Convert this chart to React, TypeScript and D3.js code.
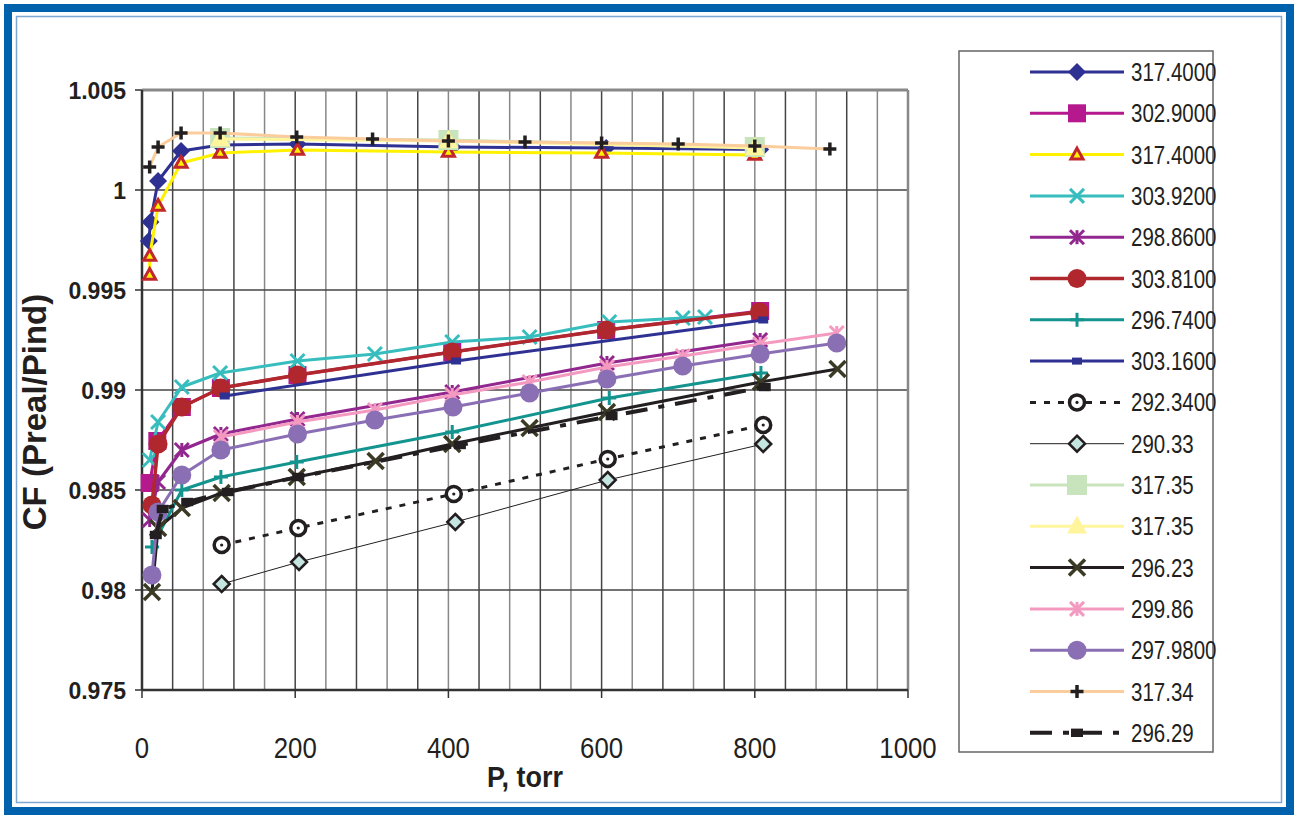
import React, { useRef, useEffect } from 'react';
import * as d3 from 'd3';

// series values: [P (torr), CF]
const s317_40a = [[9, 0.99745], [11, 0.9984], [21, 1.00045], [51, 1.00195], [102, 1.00225], [203, 1.0023], [405, 1.00215], [606, 1.0021], [807, 1.00203]];
const s302_90 = [[10, 0.98535], [20, 0.98745], [52, 0.98915], [103, 0.9901], [203, 0.99075], [405, 0.9919], [606, 0.993], [807, 0.99395]];
const s317_40b = [[10, 0.99575], [10, 0.9967], [21, 0.9992], [51, 1.00135], [102, 1.00185], [203, 1.002], [400, 1.0019], [600, 1.00185], [800, 1.00175]];
const s303_92 = [[10, 0.9865], [21, 0.9884], [52, 0.99015], [102, 0.99085], [203, 0.99145], [304, 0.9918], [405, 0.9924], [506, 0.99265], [610, 0.9934], [706, 0.9936], [735, 0.99365]];
const s298_86 = [[10, 0.9835], [21, 0.9854], [52, 0.987], [103, 0.9878], [203, 0.98855], [405, 0.9899], [607, 0.99135], [807, 0.9925]];
const s303_81 = [[13, 0.98425], [21, 0.9873], [52, 0.98915], [103, 0.9901], [203, 0.99075], [405, 0.9919], [606, 0.993], [806, 0.9939]];
const s296_74 = [[13, 0.98215], [52, 0.985], [103, 0.98565], [202, 0.9864], [405, 0.9879], [610, 0.9896], [808, 0.99085]];
const s303_16 = [[108, 0.9897], [410, 0.99145], [811, 0.9935]];
const s292_34 = [[104, 0.98225], [204, 0.9831], [407, 0.9848], [608, 0.98655], [811, 0.98825]];
const s290_33 = [[104, 0.9803], [205, 0.9814], [409, 0.9834], [608, 0.9855], [811, 0.9873]];
const s317_35a = [[102, 1.0026], [400, 1.0025], [800, 1.00215]];
const s317_35b = [[102, 1.00255], [400, 1.00245], [800, 1.0021]];
const s296_23 = [[13, 0.9799], [21, 0.9831], [52, 0.9841], [104, 0.98485], [202, 0.98565], [305, 0.98645], [405, 0.9873], [506, 0.9881], [607, 0.9889], [808, 0.9904], [908, 0.99105]];
const s299_86 = [[103, 0.98765], [203, 0.9884], [304, 0.989], [405, 0.98975], [506, 0.9904], [607, 0.99115], [706, 0.9917], [807, 0.9923], [907, 0.99285]];
const s297_98 = [[13, 0.98075], [21, 0.9839], [52, 0.98575], [103, 0.987], [203, 0.9878], [304, 0.9885], [406, 0.98915], [506, 0.98985], [607, 0.99055], [706, 0.9912], [807, 0.9918], [907, 0.99235]];
const s317_34 = [[10, 1.00115], [21, 1.00215], [51, 1.00285], [102, 1.00285], [202, 1.00265], [301, 1.00255], [400, 1.00245], [500, 1.0024], [600, 1.00235], [700, 1.0023], [800, 1.0022], [898, 1.00205]];
const s296_29 = [[18, 0.98275], [27, 0.98405], [59, 0.9844], [112, 0.9849], [204, 0.98565], [415, 0.98725], [613, 0.9887], [813, 0.99015]];

const legendLabels = ['317.4000', '302.9000', '317.4000', '303.9200', '298.8600', '303.8100', '296.7400', '303.1600', '292.3400', '290.33', '317.35', '317.35', '296.23', '299.86', '297.9800', '317.34', '296.29'];
const seriesData = [s317_40a, s302_90, s317_40b, s303_92, s298_86, s303_81, s296_74, s303_16, s292_34, s290_33, s317_35a, s317_35b, s296_23, s299_86, s297_98, s317_34, s296_29];

const xTicks = [0, 200, 400, 600, 800, 1000];
const yTicks = [0.975, 0.98, 0.985, 0.99, 0.995, 1, 1.005];
const yTickLabels = ['0.975', '0.98', '0.985', '0.99', '0.995', '1', '1.005'];

// line + marker styles, same order as the series
const styles = [
  { line: '#2e3192', w: 3, m: 'diamond', size: 9, fill: '#2e3192' },
  { line: '#b5198d', w: 3, m: 'square', size: 9, fill: '#b5198d' },
  { line: '#fff200', w: 3, m: 'triangle', size: 6, fill: '#fff200', stroke: '#c1272d', sw: 3 },
  { line: '#37bdbd', w: 3, m: 'x', size: 7, stroke: '#37bdbd', sw: 3 },
  { line: '#92278f', w: 3, m: 'asterisk', size: 7, stroke: '#92278f', sw: 3 },
  { line: '#b0272d', w: 3.5, m: 'circle', size: 9.5, fill: '#b0272d' },
  { line: '#13948f', w: 3, m: 'plus', size: 7, stroke: '#13948f', sw: 3 },
  { line: '#2e3192', w: 3, m: 'dash', size: 5, fill: '#2e3192' },
  { line: '#231f20', w: 3, dash: '6,8', m: 'circle', size: 7.5, fill: '#fff', stroke: '#231f20', sw: 3.5, dot: true },
  { line: '#231f20', w: 1, m: 'diamond', size: 8, fill: '#c5e5e1', stroke: '#231f20', sw: 2.5 },
  { line: '#c8e4bc', w: 3, m: 'square', size: 10, fill: '#c8e4bc' },
  { line: '#fff59d', w: 3, m: 'bigtriangle', size: 10, fill: '#fff59d' },
  { line: '#231f20', w: 3, m: 'x', size: 8, stroke: '#3b3a24', sw: 3.5 },
  { line: '#f49ac1', w: 3, m: 'asterisk', size: 7, stroke: '#f49ac1', sw: 3 },
  { line: '#8b6fb5', w: 3, m: 'circle', size: 9.5, fill: '#8b6fb5' },
  { line: '#fbcd9c', w: 3, m: 'plus', size: 6.5, stroke: '#231f20', sw: 3.5 },
  { line: '#231f20', w: 4, dash: '22,11,6,11', m: 'dash', size: 6, fill: '#231f20' },
];

const W = 1298;
const H = 819;
const FONT = "'Liberation Sans', Arial, Helvetica, sans-serif";

const drawMarker = (g, st, x, y) => {
  const s = st.size;
  const mg = g.append('g').attr('transform', `translate(${x},${y})`);
  if (st.m === 'diamond') {
    mg.append('path').attr('d', `M0,${-s}L${s},0L0,${s}L${-s},0Z`)
      .attr('fill', st.fill).attr('stroke', st.stroke || 'none').attr('stroke-width', st.sw || 0);
  } else if (st.m === 'square') {
    mg.append('rect').attr('x', -s).attr('y', -s).attr('width', 2 * s).attr('height', 2 * s).attr('fill', st.fill);
  } else if (st.m === 'dash') {
    mg.append('rect').attr('x', -s).attr('y', -s * 0.7).attr('width', 2 * s).attr('height', 1.4 * s).attr('fill', st.fill);
  } else if (st.m === 'triangle' || st.m === 'bigtriangle') {
    const h = s * 1.8;
    mg.append('path').attr('d', `M0,${-h * 0.6}L${s},${h * 0.4}L${-s},${h * 0.4}Z`)
      .attr('fill', st.fill).attr('stroke', st.stroke || 'none').attr('stroke-width', st.sw || 0)
      .attr('stroke-linejoin', 'miter');
  } else if (st.m === 'circle') {
    mg.append('circle').attr('r', s).attr('fill', st.fill)
      .attr('stroke', st.stroke || 'none').attr('stroke-width', st.sw || 0);
    if (st.dot) mg.append('circle').attr('r', 1.6).attr('fill', st.stroke);
  } else {
    const lines = [];
    if (st.m === 'x' || st.m === 'asterisk') {
      lines.push([-s, -s, s, s], [-s, s, s, -s]);
    }
    if (st.m === 'asterisk' || st.m === 'plus') lines.push([0, -s, 0, s]);
    if (st.m === 'plus') lines.push([-s, 0, s, 0]);
    lines.forEach(l => {
      mg.append('line').attr('x1', l[0]).attr('y1', l[1]).attr('x2', l[2]).attr('y2', l[3])
        .attr('stroke', st.stroke).attr('stroke-width', st.sw);
    });
  }
};

const App = () => {
  const svgRef = useRef(null);

  useEffect(() => {
    const svg = d3.select(svgRef.current);
    svg.selectAll('*').remove();

    const margin = { top: 90, left: 142, right: 908, bottom: 690 };
    const x = d3.scaleLinear().domain([0, 1000]).range([margin.left, margin.right]);
    const y = d3.scaleLinear().domain([0.975, 1.005]).range([margin.bottom, margin.top]);

    // frame
    svg.append('rect').attr('width', W).attr('height', H).attr('fill', '#fff');
    svg.append('rect').attr('x', 8).attr('y', 8).attr('width', W - 16).attr('height', H - 16)
      .attr('fill', 'none').attr('stroke', '#0062ad').attr('stroke-width', 8);
    svg.append('rect').attr('x', 16.5).attr('y', 16.5).attr('width', W - 33).attr('height', H - 33)
      .attr('fill', 'none').attr('stroke', '#7ea6d3').attr('stroke-width', 1.5);

    // grid
    const grid = svg.append('g');
    d3.range(40, 1000, 40).forEach((v, i) => {
      grid.append('line').attr('x1', x(v)).attr('x2', x(v)).attr('y1', y(1.005)).attr('y2', y(0.975))
        .attr('stroke', i % 2 === 0 ? '#444' : '#888').attr('stroke-width', 1.5);
    });
    yTicks.slice(1).forEach(v => {
      grid.append('line').attr('x1', x(0)).attr('x2', x(1000)).attr('y1', y(v)).attr('y2', y(v))
        .attr('stroke', v === 1.005 ? '#888' : '#444').attr('stroke-width', v === 1.005 ? 3 : 1.5);
    });
    grid.append('line').attr('x1', x(1000)).attr('x2', x(1000)).attr('y1', y(1.005)).attr('y2', y(0.975))
      .attr('stroke', '#888').attr('stroke-width', 2.5);

    // axes
    const axes = svg.append('g');
    axes.append('line').attr('x1', x(0)).attr('x2', x(0)).attr('y1', y(1.005)).attr('y2', y(0.975))
      .attr('stroke', '#333').attr('stroke-width', 2.5);
    axes.append('line').attr('x1', x(0)).attr('x2', x(1000)).attr('y1', y(0.975)).attr('y2', y(0.975))
      .attr('stroke', '#333').attr('stroke-width', 2.5);
    yTicks.forEach((v, i) => {
      axes.append('line').attr('x1', x(0) - 7).attr('x2', x(0)).attr('y1', y(v)).attr('y2', y(v))
        .attr('stroke', '#333').attr('stroke-width', 1.5);
      axes.append('text').attr('x', 126).attr('y', y(v) + 8.5).attr('text-anchor', 'end')
        .attr('font-family', FONT).attr('font-weight', 'bold').attr('font-size', 23)
        .attr('fill', '#231f20').text(yTickLabels[i]);
    });
    xTicks.forEach(v => {
      axes.append('line').attr('x1', x(v)).attr('x2', x(v)).attr('y1', y(0.975)).attr('y2', y(0.975) + 8)
        .attr('stroke', '#333').attr('stroke-width', 1.5);
      axes.append('text').attr('transform', `translate(${x(v)},${758}) scale(0.86,1)`)
        .attr('text-anchor', 'middle').attr('font-family', FONT).attr('font-size', 30)
        .attr('fill', '#231f20').text(String(v));
    });
    axes.append('text').attr('transform', `translate(${x(500)},${787}) scale(0.9,1)`)
      .attr('text-anchor', 'middle').attr('font-family', FONT).attr('font-weight', 'bold')
      .attr('font-size', 30).attr('fill', '#231f20').text('P, torr');
    axes.append('text').attr('transform', `translate(46,412) rotate(-90)`)
      .attr('text-anchor', 'middle').attr('font-family', FONT).attr('font-weight', 'bold')
      .attr('font-size', 33).attr('fill', '#231f20').text('CF (Preal/Pind)');

    // series
    const line = d3.line().x(d => x(d[0])).y(d => y(d[1]));
    const plot = svg.append('g');
    seriesData.forEach((data, i) => {
      const st = styles[i];
      const g = plot.append('g');
      g.append('path').attr('d', line(data)).attr('fill', 'none').attr('stroke', st.line)
        .attr('stroke-width', st.w).attr('stroke-dasharray', st.dash || null)
        .attr('stroke-linejoin', 'round');
      data.forEach(d => drawMarker(g, st, x(d[0]), y(d[1])));
    });

    // legend
    const leg = svg.append('g');
    leg.append('rect').attr('x', 959).attr('y', 51).attr('width', 254).attr('height', 701)
      .attr('fill', '#fff').attr('stroke', '#666').attr('stroke-width', 1.5);
    legendLabels.forEach((lab, i) => {
      const st = styles[i];
      const ly = 72 + i * 41.3;
      const g = leg.append('g');
      g.append('line').attr('x1', 1030).attr('x2', 1124).attr('y1', ly).attr('y2', ly)
        .attr('stroke', st.line).attr('stroke-width', st.w).attr('stroke-dasharray', st.dash || null);
      drawMarker(g, st, 1077, ly);
      g.append('text').attr('transform', `translate(1131,${ly + 9}) scale(0.82,1)`)
        .attr('font-family', FONT).attr('font-size', 25).attr('fill', '#231f20').text(lab);
    });
  }, []);

  return (
    <svg ref={svgRef} width={W} height={H} style={{ position: 'absolute', left: 0, top: 0 }} />
  );
};

export default App;
